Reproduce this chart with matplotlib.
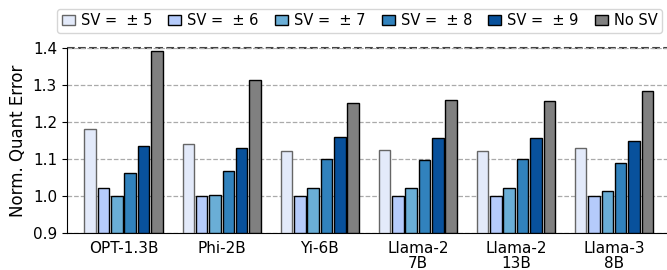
import matplotlib
matplotlib.use("Agg")
import matplotlib.pyplot as plt
import numpy as np

# models on the x axis
models = ['OPT-1.3B', 'Phi-2B', 'Yi-6B', 'Llama-2\n7B', 'Llama-2\n13B', 'Llama-3\n8B']
series = ['SV =  \u00b1 5', 'SV =  \u00b1 6', 'SV =  \u00b1 7', 'SV =  \u00b1 8', 'SV =  \u00b1 9', 'No SV']
sv5 = [1.180, 1.140, 1.122, 1.124, 1.122, 1.130]
sv6 = [1.020, 1.000, 1.000, 1.000, 1.000, 1.000]
sv7 = [1.000, 1.003, 1.022, 1.020, 1.022, 1.014]
sv8 = [1.061, 1.068, 1.100, 1.097, 1.099, 1.088]
sv9 = [1.134, 1.129, 1.159, 1.156, 1.158, 1.148]
nosv = [1.392, 1.313, 1.253, 1.259, 1.256, 1.283]

colors = ['#e3eafa', '#b5cbfb', '#6aaed6', '#3182bd', '#08519c', '#808080']
edges = ['#666666', 'black', 'black', 'black', 'black', 'black']

fig = plt.figure(figsize=(6.67, 2.7), dpi=100)
ax = fig.add_axes([0.1, 0.138, 0.9, 0.683])

x = np.arange(len(models))
step = 0.136
w = 0.118
for i, vals in enumerate([sv5, sv6, sv7, sv8, sv9, nosv]):
    ax.bar(x + (i - 2.5) * step, np.array(vals) - 0.9, w, bottom=0.9,
           color=colors[i], edgecolor=edges[i], linewidth=1, label=series[i], zorder=3)

ax.set_ylim(0.9, 1.4)
ax.set_xlim(-0.58, 5.54)
ax.set_yticks([0.9, 1.0, 1.1, 1.2, 1.3, 1.4])
ax.set_yticklabels(['0.9', '1.0', '1.1', '1.2', '1.3', '1.4'])
ax.set_xticks(x)
ax.set_xticklabels(models, fontsize=11, linespacing=0.98)
ax.tick_params(axis='y', labelsize=11)
ax.tick_params(axis='x', length=0, pad=6)
ax.set_ylabel('Norm. Quant Error', fontsize=12)
ax.grid(axis='y', linestyle='--', color='#aaaaaa', linewidth=0.9, zorder=0)
ax.axhline(1.4, linestyle='--', color='#444444', linewidth=1.5, zorder=1, clip_on=False)
ax.spines['top'].set_visible(False)
ax.spines['right'].set_visible(False)

ax.legend(ncol=6, loc='lower center', bbox_to_anchor=(0.488, 1.085), fontsize=10.5,
          handlelength=0.9, handletextpad=0.4, columnspacing=1.12, borderpad=0.3,
          borderaxespad=0, fancybox=True)

fig.savefig('out.png', dpi=100)
